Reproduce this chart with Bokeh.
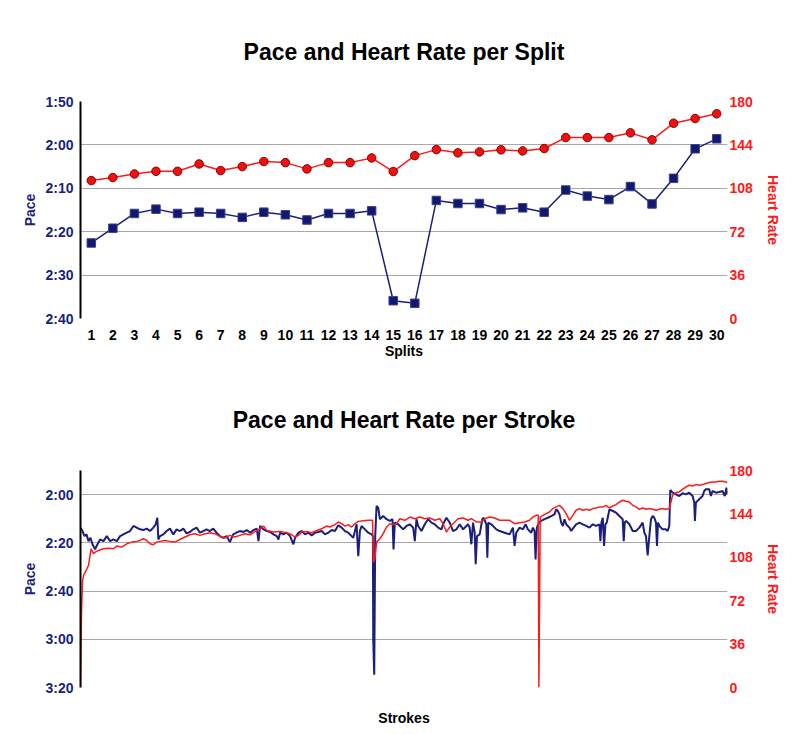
from bokeh.plotting import figure
from bokeh.models import Range1d, LinearAxis, FixedTicker
from bokeh.layouts import column
from bokeh.embed import file_html
from bokeh.resources import INLINE

# ---------------- data: per split ----------------
splits = list(range(1, 31))
split_pace = [142.6, 139.2, 135.8, 134.8, 135.8, 135.5, 135.8, 136.7, 135.5, 136.1,
              137.3, 135.8, 135.8, 135.2, 155.9, 156.5, 132.8, 133.5, 133.5, 134.9,
              134.5, 135.5, 130.4, 131.8, 132.6, 129.6, 133.6, 127.7, 120.9, 118.6]
split_hr = [114.4, 116.9, 119.9, 122.1, 122.1, 128.2, 122.7, 126.0, 130.2, 129.3,
            124.1, 129.3, 129.3, 133.2, 121.9, 135.1, 140.1, 137.4, 138.2, 139.9,
            139.0, 141.0, 150.1, 150.1, 150.1, 154.0, 148.2, 162.0, 165.9, 169.8]

top_pace_ticks = [110, 120, 130, 140, 150, 160]
top_pace_labels = ["1:50", "2:00", "2:10", "2:20", "2:30", "2:40"]
bottom_pace_ticks = [120, 140, 160, 180, 200]
bottom_pace_labels = ["2:00", "2:20", "2:40", "3:00", "3:20"]
hr_ticks = [0, 36, 72, 108, 144, 180]

# ---------------- data: per stroke ----------------
stroke_x_pace = [0, 6, 12, 18, 24, 30, 36, 44, 49, 59, 69, 79, 89, 99, 109, 119, 129, 139, 149, 159,
                 169, 179, 189, 199, 209, 219, 226, 231, 234, 239, 249, 259, 269, 279, 289, 299, 309, 319, 329, 339,
                 349, 359, 369, 379, 389, 399, 409, 419, 429, 439, 449, 459, 469, 479,
                 490, 500, 510, 520, 530, 535, 540, 550, 560, 570, 580, 590, 595, 600, 610, 620, 630, 640, 645, 655,
                 665, 675, 685, 695, 705, 715, 725, 735, 745, 755, 765, 775, 785, 795, 805, 815, 820, 825, 830, 835,
                 840, 845, 855, 865, 875, 879, 880, 883, 886, 890, 895, 900, 910, 920, 930, 938, 941, 945, 955,
                 960, 970, 980, 990, 1000, 1005, 1010, 1015, 1025, 1035, 1045, 1055, 1065, 1075, 1085, 1090, 1100, 1110, 1120, 1130,
                 1140, 1150, 1160, 1165, 1170, 1175, 1180, 1185, 1188, 1192, 1200, 1208, 1212, 1220, 1223, 1226, 1235, 1250, 1260, 1275,
                 1290, 1300, 1305, 1310, 1320, 1330, 1338, 1345, 1355, 1360, 1365, 1368, 1372, 1378, 1385, 1395, 1405, 1415, 1425, 1430,
                 1435,
                 1440, 1445, 1450, 1455, 1460, 1465, 1470, 1475, 1480, 1490, 1500, 1510, 1520, 1530, 1540, 1550, 1560, 1563, 1566, 1570,
                 1574, 1578, 1582, 1586, 1590, 1600, 1610, 1620, 1630, 1633, 1636, 1640, 1650, 1660, 1670, 1680, 1690, 1695, 1700, 1705,
                 1710, 1715, 1720, 1725, 1730, 1733, 1736, 1740, 1750, 1760, 1765, 1770, 1773, 1780, 1790, 1800, 1810, 1820, 1830, 1840,
                 1845, 1847, 1850, 1855, 1860, 1870, 1875, 1880, 1890, 1895, 1900, 1910, 1920, 1930, 1937, 1942, 1945]
stroke_pace = [133.7, 135.1, 137.2, 136.5, 139.3, 137.9, 140.6, 142.7, 141.1, 138.6, 139.3, 137.2, 139.3, 138.6, 139.3, 137.2, 136.5, 135.8, 135.1, 133.0,
               133.7, 134.4, 134.7, 134.1, 135.1, 133.7, 132.3, 129.6, 138.6, 137.2, 136.5, 135.1, 134.1, 136.5, 134.4, 135.1, 134.1, 136.1, 135.5, 134.4,
               133.7, 135.8, 135.1, 134.4, 135.1, 134.1, 135.8, 137.2, 137.9, 137.2, 139.7, 136.5, 135.8, 135.1,
               135.5, 134.7, 135.8, 134.7, 134.1, 139.3, 133.0, 134.4, 135.1, 135.5, 136.5, 137.2, 138.6, 135.8, 136.5, 135.8, 137.2, 140.6, 137.9, 135.8,
               135.1, 136.5, 135.8, 136.9, 135.8, 135.5, 135.1, 136.5, 135.8, 134.7, 135.1, 132.7, 133.7, 135.1, 135.8, 137.2, 137.9, 135.1, 132.3, 145.5,
               135.1, 133.0, 134.4, 135.8, 136.5, 137.2, 180.1, 194.7, 137.2, 124.7, 125.4, 130.2, 128.9, 130.2, 130.9, 130.2, 142.7, 131.6, 132.3,
               133.0, 134.4, 133.0, 132.3, 133.7, 139.3, 130.2, 133.0, 135.1, 132.3, 130.2, 131.6, 132.3, 133.7, 134.4, 132.3, 129.6, 131.6, 135.1, 134.4,
               132.3, 134.4, 133.0, 132.3, 133.7, 140.6, 131.6, 135.8, 148.9, 137.2, 136.5, 130.2, 129.6, 132.3, 146.2, 131.6, 132.3, 134.4, 135.1, 135.8,
               136.5, 133.7, 141.3, 135.8, 133.7, 134.4, 132.3, 134.4, 135.8, 133.7, 135.1, 146.9, 133.7, 131.6, 130.9, 130.2, 129.6, 128.9, 128.2, 126.1,
               126.8,
               128.2, 131.6, 133.0, 130.2, 132.3, 133.0, 133.7, 135.1, 134.1, 132.3, 131.6, 132.3, 133.0, 133.7, 132.3, 133.0, 132.3, 139.3, 131.6, 129.6,
               141.3, 132.3, 131.6, 128.9, 126.1, 126.8, 127.5, 128.9, 130.2, 139.3, 131.6, 130.9, 132.3, 135.1, 135.1, 133.7, 131.6, 135.8, 137.2, 145.2,
               137.2, 130.2, 128.9, 129.6, 131.6, 141.3, 131.6, 133.0, 134.4, 134.4, 135.1, 133.0, 118.1, 119.2, 119.9, 120.6, 119.4, 119.9, 119.2, 120.6,
               123.3, 130.9, 123.3, 122.6, 121.9, 120.6, 118.5, 117.8, 117.8, 120.6, 118.5, 119.2, 118.9, 118.5, 120.6, 117.1, 119.9]

stroke_x_hr = [0, 3, 6, 9, 19, 24, 32, 39, 44, 54, 69, 84, 99, 109, 124, 139, 154, 169, 179, 189,
               199, 209, 219, 229, 239, 254, 269, 284, 299, 314, 329, 344, 359, 374, 389, 404, 419, 434, 449, 464,
               479,
               495, 510, 525, 540, 550, 560, 580, 600, 620, 635, 645, 655, 665, 680, 695, 710, 725, 740, 750, 765,
               775, 785, 795, 805, 815, 825, 835, 850, 865, 878, 880, 885, 890, 900, 910, 920, 930, 940, 950,
               960, 975, 990, 1005, 1020, 1035, 1050, 1065, 1080, 1090, 1100, 1110, 1120, 1135, 1150, 1165, 1175, 1190, 1205, 1215,
               1230, 1245, 1260, 1275, 1290, 1305, 1320, 1335, 1350, 1360, 1370, 1376, 1378, 1382, 1390, 1400, 1410, 1420, 1430, 1440,
               1450, 1460, 1470, 1480, 1490, 1500, 1510, 1520, 1530, 1540, 1550, 1560, 1570, 1580, 1590, 1600, 1610, 1620, 1630, 1640,
               1650, 1660, 1670, 1680, 1690, 1700, 1710, 1720, 1730, 1740, 1750, 1760, 1770, 1775, 1780, 1790, 1800, 1810, 1820, 1830,
               1840, 1850, 1860, 1870, 1880, 1890, 1900, 1910, 1920, 1930, 1940, 1945]
stroke_hr = [0, 62.4, 88.0, 92.9, 98.4, 101.2, 115.1, 110.9, 112.3, 113.7, 115.1, 115.6, 115.1, 117.3, 116.5, 119.2, 120.6, 121.2, 122.0, 123.4,
             122.0, 119.2, 118.4, 120.6, 121.2, 122.0, 121.2, 120.6, 122.8, 124.8, 126.7, 127.6, 126.2, 127.6, 128.4, 127.6, 125.3, 124.0, 126.2, 124.8,
             126.2,
             127.6, 126.7, 129.5, 131.7, 133.9, 130.3, 129.0, 129.5, 128.4, 126.7, 124.8, 126.2, 129.0, 129.5, 128.4, 130.3, 131.7, 133.9, 133.1, 135.1,
             137.3, 135.9, 133.9, 135.1, 133.1, 135.9, 137.8, 138.4, 138.7, 138.7, 104.0, 106.8, 120.6, 123.4, 127.6, 133.1, 135.9, 135.1, 135.9,
             140.0, 138.7, 141.4, 140.0, 141.4, 140.0, 140.6, 138.7, 140.0, 135.9, 129.0, 133.1, 135.9, 140.0, 140.6, 138.7, 140.0, 137.3, 137.3, 140.0,
             141.4, 140.6, 138.7, 138.7, 138.7, 135.9, 136.7, 137.3, 138.7, 141.4, 142.8, 142.8, 0, 141.4, 142.8, 144.2, 145.6, 148.4, 149.8, 151.1,
             148.4, 144.2, 138.7, 142.8, 147.0, 148.4, 147.0, 147.8, 147.0, 148.4, 148.9, 149.8, 149.8, 151.1, 148.9, 150.6, 151.7, 153.9, 155.3, 154.5,
             153.9, 151.1, 149.8, 147.8, 148.9, 147.8, 148.4, 147.8, 147.0, 147.8, 148.4, 147.8, 148.4, 153.9, 159.5, 161.7, 162.2, 164.4, 166.4, 167.8,
             167.2, 168.3, 167.8, 168.3, 169.2, 170.0, 170.5, 170.5, 171.1, 171.1, 170.5, 170.0]

# ---------------- style ----------------
NAVY = "#1a1f7e"
RED = "#ff1a1a"
GRID = "#a8a8a8"
FONT = "Liberation Sans"


def style_common(p, pace_ticks, pace_labels, title_standoff):
    p.outline_line_color = None
    p.xgrid.grid_line_color = None
    p.ygrid.ticker = FixedTicker(ticks=pace_ticks)
    p.ygrid.grid_line_color = GRID
    p.ygrid.grid_line_width = 1
    p.title.align = "center"
    p.title.text_font = FONT
    p.title.text_font_size = "23px"
    p.title.text_font_style = "bold"
    p.title.text_color = "black"
    p.title.standoff = title_standoff

    ya = p.yaxis[0]
    ya.ticker = FixedTicker(ticks=pace_ticks)
    ya.major_label_overrides = {t: l for t, l in zip(pace_ticks, pace_labels)}
    ya.axis_label = "Pace"
    ya.axis_label_text_font = FONT
    ya.axis_label_text_font_size = "14px"
    ya.axis_label_text_font_style = "bold"
    ya.axis_label_text_color = NAVY
    ya.axis_label_standoff = 4
    ya.major_label_text_font = FONT
    ya.major_label_text_font_size = "14px"
    ya.major_label_text_font_style = "bold"
    ya.major_label_text_color = NAVY
    ya.major_label_standoff = 7
    ya.major_tick_out = 0
    ya.major_tick_in = 0
    ya.minor_tick_out = 0
    ya.minor_tick_in = 0
    ya.major_tick_line_color = None
    ya.minor_tick_line_color = None
    ya.axis_line_color = "black"
    ya.axis_line_width = 2

    ra = LinearAxis(y_range_name="hr", ticker=FixedTicker(ticks=hr_ticks))
    ra.axis_label = "Heart Rate"
    ra.axis_label_text_font = FONT
    ra.axis_label_text_font_size = "14px"
    ra.axis_label_text_font_style = "bold"
    ra.axis_label_text_color = RED
    ra.axis_label_standoff = 9
    ra.major_label_text_font = FONT
    ra.major_label_text_font_size = "14px"
    ra.major_label_text_font_style = "bold"
    ra.major_label_text_color = RED
    ra.major_label_standoff = 2
    ra.major_tick_out = 0
    ra.major_tick_in = 0
    ra.minor_tick_out = 0
    ra.minor_tick_in = 0
    ra.major_tick_line_color = None
    ra.minor_tick_line_color = None
    ra.axis_line_color = None
    p.add_layout(ra, "right")

    xa = p.xaxis[0]
    xa.axis_line_color = None
    xa.major_tick_out = 0
    xa.major_tick_in = 0
    xa.minor_tick_out = 0
    xa.minor_tick_in = 0
    xa.major_tick_line_color = None
    xa.minor_tick_line_color = None
    xa.major_label_text_font = FONT
    xa.major_label_text_font_size = "14px"
    xa.major_label_text_font_style = "bold"
    xa.major_label_text_color = "black"
    xa.axis_label_text_font = FONT
    xa.axis_label_text_font_size = "14px"
    xa.axis_label_text_font_style = "bold"
    xa.axis_label_text_color = "black"


# ---------------- top chart ----------------
p1 = figure(width=792, height=366, output_backend="svg", toolbar_location=None,
            title="Pace and Heart Rate per Split",
            x_range=Range1d(0.5, 30.5), y_range=Range1d(160, 110),
            min_border_left=80, min_border_right=65, min_border_top=101, min_border_bottom=48)
p1.extra_y_ranges = {"hr": Range1d(0, 180)}
style_common(p1, top_pace_ticks, top_pace_labels, 73)
p1.xaxis[0].ticker = FixedTicker(ticks=splits)
p1.xaxis[0].major_label_standoff = 11
p1.xaxis[0].axis_label = "Splits"
p1.xaxis[0].axis_label_standoff = 0

p1.line(splits, split_hr, y_range_name="hr", line_color=RED, line_width=1.5)
p1.scatter(splits, split_hr, y_range_name="hr", marker="circle", size=8.5,
           fill_color="#f01010", line_color="#8a0000", line_width=1)
p1.line(splits, split_pace, line_color=NAVY, line_width=1.5)
p1.scatter(splits, split_pace, marker="square", size=8.5,
           fill_color="#12186a", line_color="#3a3f9a", line_width=1)

# ---------------- bottom chart ----------------
p2 = figure(width=792, height=366, output_backend="svg", toolbar_location=None,
            title="Pace and Heart Rate per Stroke",
            x_range=Range1d(0, 1945), y_range=Range1d(200, 110),
            min_border_left=80, min_border_right=65, min_border_top=104, min_border_bottom=45)
p2.extra_y_ranges = {"hr": Range1d(0, 180)}
style_common(p2, bottom_pace_ticks, bottom_pace_labels, 76)
p2.xaxis[0].ticker = FixedTicker(ticks=[])
p2.xaxis[0].axis_label = "Strokes"
p2.xaxis[0].axis_label_standoff = 22

p2.line(stroke_x_pace, stroke_pace, line_color=NAVY, line_width=2)
p2.line(stroke_x_hr, stroke_hr, y_range_name="hr", line_color=RED, line_width=1.5)

layout = column(p1, p2, spacing=0)
open("out.html", "w").write(file_html(layout, INLINE))
